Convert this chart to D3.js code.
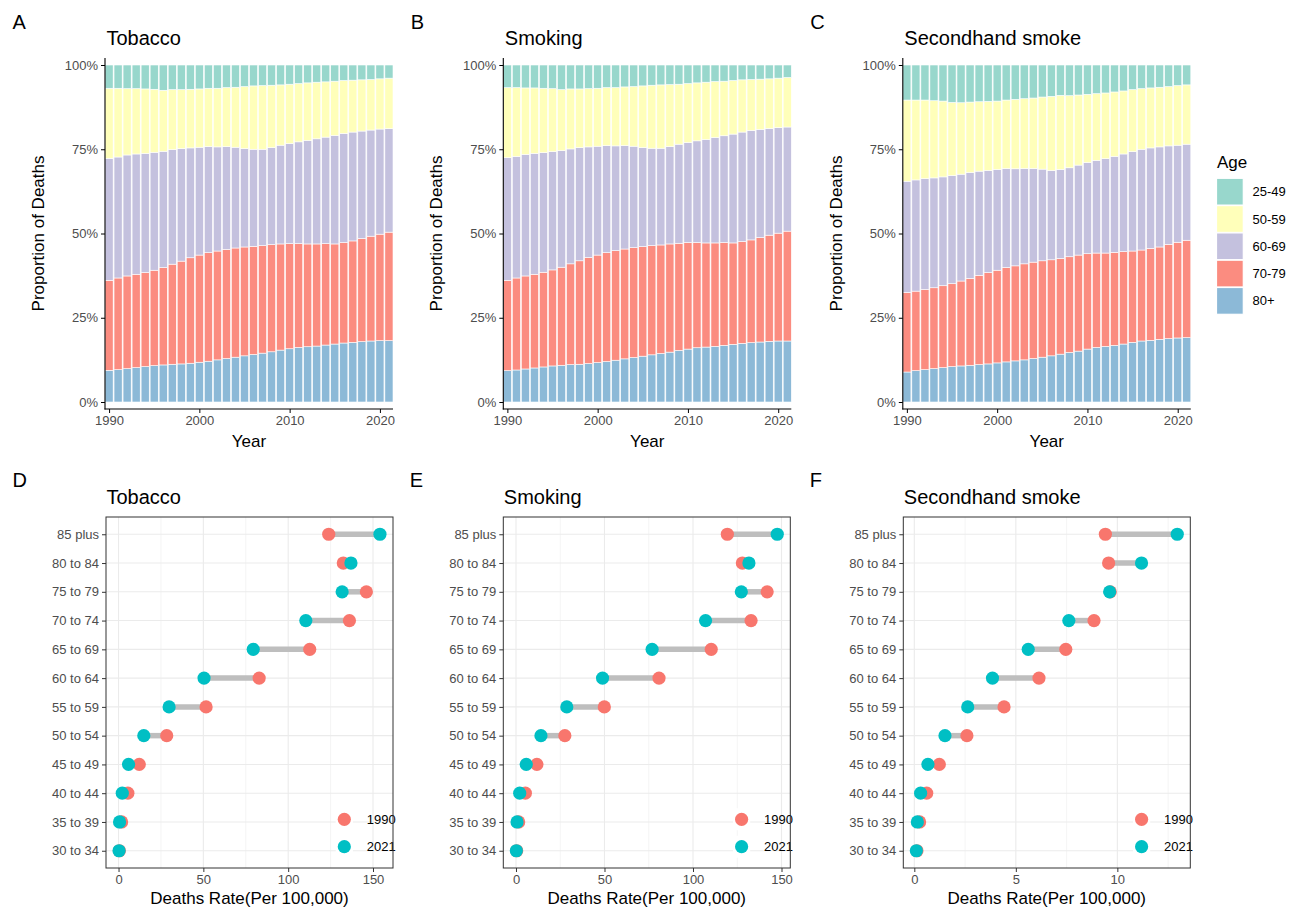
<!DOCTYPE html>
<html><head><meta charset="utf-8">
<script src="https://cdn.jsdelivr.net/npm/d3@7"></script>
<style>
body{margin:0;background:#fff;}
text{font-family:"Liberation Sans",Arial,Helvetica,sans-serif;}
</style>
</head><body>
<svg id="chart" width="1299" height="909"></svg>
<script>
// ---------------- DATA ----------------
const years = [1990,1991,1992,1993,1994,1995,1996,1997,1998,1999,2000,2001,2002,2003,2004,2005,
               2006,2007,2008,2009,2010,2011,2012,2013,2014,2015,2016,2017,2018,2019,2020,2021];
const ageGroups = ["25-49","50-59","60-69","70-79","80+"];
const ageColors = ["#8DD3C7","#FFFFB3","#BEBADA","#FB8072","#80B1D3"];

// share of deaths (%) by age group, Tobacco
const tobacco_25_49 = [6.9,6.9,7.0,7.0,7.1,7.2,7.5,7.3,7.3,7.2,7.1,6.9,6.9,6.7,6.6,6.4,6.2,6.1,6.0,5.9,5.7,5.5,5.3,5.1,5.0,4.8,4.6,4.5,4.4,4.3,4.1,3.9];
const tobacco_50_59 = [20.8,20.4,19.7,19.4,19.1,18.7,18.1,17.8,17.5,17.4,17.3,17.3,17.4,17.5,17.8,18.4,18.8,18.9,18.5,17.9,17.6,17.3,17.1,16.8,16.4,16.1,15.7,15.4,15.2,15.0,14.9,15.0];
const tobacco_60_69 = [36.2,35.9,35.9,35.7,35.4,35.0,34.5,34.0,33.4,32.6,32.0,31.5,30.9,30.5,29.9,29.2,28.8,28.6,28.8,29.3,29.7,30.2,30.7,31.2,31.6,32.2,32.4,32.3,31.9,31.5,31.2,30.7];
const tobacco_70_79 = [26.7,27.2,27.5,27.7,27.9,28.3,28.9,29.7,30.5,31.3,31.8,32.2,32.3,32.4,32.4,32.3,32.1,31.9,31.8,31.5,31.2,30.8,30.5,30.3,30.1,29.7,29.8,30.1,30.6,31.1,31.6,32.2];
const tobacco_80plus = [9.4,9.6,9.9,10.2,10.5,10.8,11.0,11.2,11.3,11.5,11.8,12.1,12.5,12.9,13.3,13.7,14.1,14.5,14.9,15.4,15.8,16.2,16.4,16.6,16.9,17.2,17.5,17.7,17.9,18.1,18.2,18.2];

// Smoking
const smoking_25_49 = [6.7,6.7,6.8,6.8,6.9,7.0,7.3,7.1,7.1,7.0,6.9,6.7,6.7,6.5,6.4,6.2,6.0,5.9,5.8,5.7,5.5,5.3,5.1,4.9,4.8,4.6,4.4,4.3,4.2,4.1,3.9,3.7];
const smoking_50_59 = [20.8,20.4,19.7,19.4,19.1,18.7,18.1,17.8,17.4,17.3,17.2,17.2,17.3,17.4,17.7,18.3,18.7,18.8,18.4,17.8,17.5,17.2,17.0,16.6,16.2,15.9,15.5,15.1,14.9,14.7,14.7,14.7];
const smoking_60_69 = [36.4,36.1,36.1,35.9,35.5,35.1,34.6,34.1,33.6,32.8,32.3,31.8,31.1,30.7,30.1,29.4,28.9,28.7,28.9,29.4,29.7,30.2,30.7,31.3,31.7,32.3,32.5,32.5,32.1,31.7,31.3,30.9];
const smoking_70_79 = [26.8,27.3,27.6,27.8,28.1,28.5,29.1,29.9,30.7,31.5,31.9,32.3,32.5,32.6,32.6,32.5,32.4,32.2,32.1,31.8,31.6,31.2,30.9,30.7,30.5,30.1,30.2,30.5,31.0,31.5,32.0,32.6];
const smoking_80plus = [9.3,9.5,9.8,10.1,10.4,10.7,10.9,11.1,11.2,11.4,11.7,12.0,12.4,12.8,13.2,13.6,14.0,14.4,14.8,15.3,15.7,16.1,16.3,16.5,16.8,17.1,17.4,17.6,17.8,18.0,18.1,18.1];

// Secondhand smoke
const secondhand_25_49 = [10.4,10.4,10.4,10.6,10.7,11.1,11.2,11.0,10.9,10.8,10.7,10.4,10.2,10.0,9.8,9.5,9.3,9.0,9.1,8.9,8.7,8.5,8.3,8.0,7.7,7.3,7.0,6.8,6.6,6.4,6.1,5.9];
const secondhand_50_59 = [24.1,23.7,23.3,22.9,22.5,21.7,21.2,20.9,20.6,20.5,20.3,20.3,20.6,20.7,20.9,21.4,22.0,22.0,21.4,20.8,20.2,19.8,19.5,19.1,18.7,18.4,18.0,17.8,17.7,17.6,17.7,17.6];
const secondhand_60_69 = [33.0,33.0,32.9,32.6,32.3,32.1,31.7,31.4,30.9,30.3,29.9,29.4,28.8,28.3,27.8,27.2,26.5,26.4,26.4,26.7,27.1,27.5,28.0,28.5,29.0,29.5,29.9,29.8,29.7,29.2,28.8,28.5];
const secondhand_70_79 = [23.6,23.6,23.8,24.0,24.3,24.6,25.2,25.8,26.5,27.1,27.5,28.0,28.2,28.5,28.6,28.6,28.5,28.4,28.4,28.5,28.3,28.0,27.7,27.6,27.4,27.1,27.0,27.3,27.4,28.0,28.4,28.9];
const secondhand_80plus = [8.9,9.3,9.6,9.9,10.2,10.5,10.7,10.9,11.1,11.3,11.6,11.9,12.2,12.5,12.9,13.3,13.7,14.2,14.7,15.1,15.7,16.2,16.5,16.8,17.2,17.7,18.1,18.3,18.6,18.8,19.0,19.1];

const causes = ["Tobacco","Smoking","Secondhand smoke"];
const topLetters = ["A","B","C"];
const bottomLetters = ["D","E","F"];

// death rate per 100,000 by age band (bottom to top)
const ageBands = ["30 to 34","35 to 39","40 to 44","45 to 49","50 to 54","55 to 59","60 to 64","65 to 69","70 to 74","75 to 79","80 to 84","85 plus"];
const rateYears = ["1990","2021"];
const rateColors = ["#F8766D","#00BFC4"];
const tobacco1990 = [0.5,1.8,5.5,12.2,28.4,51.6,82.9,112.7,136.1,146.1,132.5,123.9];
const tobacco2021 = [0.3,0.6,2.2,5.9,14.9,29.8,50.4,79.4,110.4,131.8,137.0,154.1];
const smoking1990 = [0.4,1.5,5.3,11.8,27.6,49.9,80.8,110.3,132.8,141.9,127.9,119.4];
const smoking2021 = [0.2,0.6,2.1,5.8,14.1,28.7,48.9,76.9,107.1,127.3,131.6,147.6];
const secondhand1990 = [0.13,0.26,0.61,1.23,2.59,4.42,6.14,7.46,8.85,9.65,9.57,9.41];
const secondhand2021 = [0.10,0.15,0.31,0.67,1.51,2.63,3.85,5.61,7.61,9.62,11.19,12.95];

const yTickValues = [0,0.25,0.5,0.75,1];
const yearTicks = [1990,2000,2010,2020];

// ---------------- BUILD ----------------
const shareSeries = [
  {"25-49":tobacco_25_49,"50-59":tobacco_50_59,"60-69":tobacco_60_69,"70-79":tobacco_70_79,"80+":tobacco_80plus},
  {"25-49":smoking_25_49,"50-59":smoking_50_59,"60-69":smoking_60_69,"70-79":smoking_70_79,"80+":smoking_80plus},
  {"25-49":secondhand_25_49,"50-59":secondhand_50_59,"60-69":secondhand_60_69,"70-79":secondhand_70_79,"80+":secondhand_80plus}
];
const rateSeries = [[tobacco1990,tobacco2021],[smoking1990,smoking2021],[secondhand1990,secondhand2021]];

const svg = d3.select("#chart");
const color = d3.scaleOrdinal().domain(ageGroups).range(ageColors);
const stackKeys = ["80+","70-79","60-69","50-59","25-49"];
const TICK = "#4D4D4D";

// ---- top row: stacked proportion bars ----
const topLeft = [105, 503.3, 902.8];
const topW = 288;
causes.forEach((cause, p) => {
  const L = topLeft[p];
  const g = svg.append("g");
  const x = d3.scaleLinear().domain([1989.55, 2021.45]).range([L, L + topW]);
  const y = d3.scaleLinear().domain([0, 1]).range([402, 65]);
  const rows = years.map((yr, i) => {
    const r = {year: yr};
    ageGroups.forEach(a => r[a] = shareSeries[p][a][i]);
    return r;
  });
  const stacked = d3.stack().keys(stackKeys).offset(d3.stackOffsetExpand)(rows);
  const bw = (x(1991) - x(1990)) * 0.9;
  g.selectAll("g.layer").data(stacked).join("g")
    .attr("fill", d => color(d.key)).attr("fill-opacity", 0.9)
    .selectAll("rect").data(d => d).join("rect")
    .attr("x", d => x(d.data.year) - bw / 2)
    .attr("width", bw)
    .attr("y", d => y(d[1]))
    .attr("height", d => y(d[0]) - y(d[1]))
    .attr("stroke", "#fff").attr("stroke-width", 0.6);

  // axes
  const ya = g.append("g").attr("transform", `translate(${L},0)`)
    .call(d3.axisLeft(y).tickValues(yTickValues).tickFormat(d3.format(".0%")).tickSize(4).tickPadding(3));
  ya.select(".domain").remove();
  const xa = g.append("g").attr("transform", `translate(0,409)`)
    .call(d3.axisBottom(x).tickValues(yearTicks).tickFormat(d3.format("d")).tickSize(4).tickPadding(3));
  xa.select(".domain").remove();
  [ya, xa].forEach(a => {
    a.selectAll("line").attr("stroke", "#000").attr("stroke-width", 1);
    a.selectAll("text").attr("fill", TICK).style("font-size", "13px");
  });
  g.append("line").attr("x1", L).attr("x2", L).attr("y1", 58).attr("y2", 409.5).attr("stroke", "#000").attr("stroke-width", 1.1);
  g.append("line").attr("x1", L - 0.5).attr("x2", L + topW).attr("y1", 409).attr("y2", 409).attr("stroke", "#000").attr("stroke-width", 1.1);

  // titles
  g.append("text").attr("x", L + 1.5).attr("y", 44.5).text(cause).style("font-size", "20px").attr("fill", "#000");
  g.append("text").attr("x", L - 92.5).attr("y", 28.5).text(topLetters[p]).style("font-size", "20px").attr("fill", "#000");
  g.append("text").attr("x", L + topW / 2).attr("y", 446.5).attr("text-anchor", "middle").text("Year").style("font-size", "17px");
  g.append("text").attr("transform", `translate(${L - 61},${233.5}) rotate(-90)`).attr("text-anchor", "middle")
    .text("Proportion of Deaths").style("font-size", "17px");
});

// legend Age
const lg = svg.append("g");
lg.append("text").attr("x", 1217).attr("y", 167.5).text("Age").style("font-size", "17px");
ageGroups.forEach((a, i) => {
  const y0 = 178.3 + i * 27.3;
  lg.append("rect").attr("x", 1216.5).attr("y", y0).attr("width", 26.8).attr("height", 26.8)
    .attr("fill", color(a)).attr("fill-opacity", 0.9).attr("stroke", "#fff").attr("stroke-width", 1.2);
  lg.append("text").attr("x", 1252.5).attr("y", y0 + 13.4).attr("dy", "0.35em").text(a).style("font-size", "13px").attr("fill", "#000");
});

// ---- bottom row: dumbbell plots ----
const botLeft = [106, 503.3, 903.3];
const botW = 287;
const botTop = 517, botBottom = 868;
causes.forEach((cause, p) => {
  const L = botLeft[p];
  const g = svg.append("g");
  const [v90, v21] = rateSeries[p];
  const all = v90.concat(v21);
  const mn = d3.min(all), mx = d3.max(all), pad = (mx - mn) * 0.05;
  const x = d3.scaleLinear().domain([mn - pad, mx + pad]).range([L, L + botW]);
  const y = d3.scalePoint().domain(ageBands.slice().reverse()).range([botTop, botBottom]).padding(0.6);
  const ticks = x.ticks(4);
  const step = ticks[1] - ticks[0];
  const minor = ticks.map(t => t - step / 2).concat([ticks[ticks.length - 1] + step / 2])
    .filter(t => x(t) >= L && x(t) <= L + botW);

  // grid
  g.selectAll("line.minor").data(minor).join("line")
    .attr("x1", d => x(d)).attr("x2", d => x(d)).attr("y1", botTop).attr("y2", botBottom)
    .attr("stroke", "#EBEBEB").attr("stroke-width", 0.55);
  g.selectAll("line.vmaj").data(ticks).join("line")
    .attr("x1", d => x(d)).attr("x2", d => x(d)).attr("y1", botTop).attr("y2", botBottom)
    .attr("stroke", "#EBEBEB").attr("stroke-width", 1.1);
  g.selectAll("line.hmaj").data(ageBands).join("line")
    .attr("x1", L).attr("x2", L + botW).attr("y1", d => y(d)).attr("y2", d => y(d))
    .attr("stroke", "#EBEBEB").attr("stroke-width", 1.1);

  // segments
  g.selectAll("line.seg").data(ageBands).join("line")
    .attr("x1", (d, i) => x(v90[i])).attr("x2", (d, i) => x(v21[i]))
    .attr("y1", d => y(d)).attr("y2", d => y(d))
    .attr("stroke", "#BEBEBE").attr("stroke-width", 5.5);
  // dots
  [v90, v21].forEach((vals, k) => {
    g.selectAll(null).data(ageBands).join("circle")
      .attr("cx", (d, i) => x(vals[i])).attr("cy", d => y(d)).attr("r", 6.6)
      .attr("fill", rateColors[k]);
  });

  // legend inside
  rateYears.forEach((ry, k) => {
    const cy = 819.3 + k * 27.4, cx = L + botW - 48.7;
    g.append("rect").attr("x", cx - 8.6).attr("y", cy - 11).attr("width", 17.2).attr("height", 22).attr("fill", "#fff");
    g.append("circle").attr("cx", cx).attr("cy", cy).attr("r", 6.6).attr("fill", rateColors[k]);
    g.append("text").attr("x", cx + 22.5).attr("y", cy).attr("dy", "0.35em").text(ry).style("font-size", "13px").attr("fill", "#000");
  });

  // border
  g.append("rect").attr("x", L).attr("y", botTop).attr("width", botW).attr("height", botBottom - botTop)
    .attr("fill", "none").attr("stroke", "#333").attr("stroke-width", 1);

  // axes
  const ya = g.append("g").attr("transform", `translate(${L},0)`)
    .call(d3.axisLeft(y).tickSize(4).tickPadding(3));
  ya.select(".domain").remove();
  const xa = g.append("g").attr("transform", `translate(0,${botBottom})`)
    .call(d3.axisBottom(x).tickValues(ticks).tickSize(4).tickPadding(3));
  xa.select(".domain").remove();
  [ya, xa].forEach(a => {
    a.selectAll("line").attr("stroke", "#333").attr("stroke-width", 1);
    a.selectAll("text").attr("fill", TICK).style("font-size", "13px");
  });

  g.append("text").attr("x", L + 0.5).attr("y", 503.5).text(cause).style("font-size", "20px").attr("fill", "#000");
  g.append("text").attr("x", L - 93.5).attr("y", 486.5).text(bottomLetters[p]).style("font-size", "20px").attr("fill", "#000");
  g.append("text").attr("x", L + botW / 2).attr("y", 904).attr("text-anchor", "middle")
    .text("Deaths Rate(Per 100,000)").style("font-size", "17px");
});
</script>
</body></html>
